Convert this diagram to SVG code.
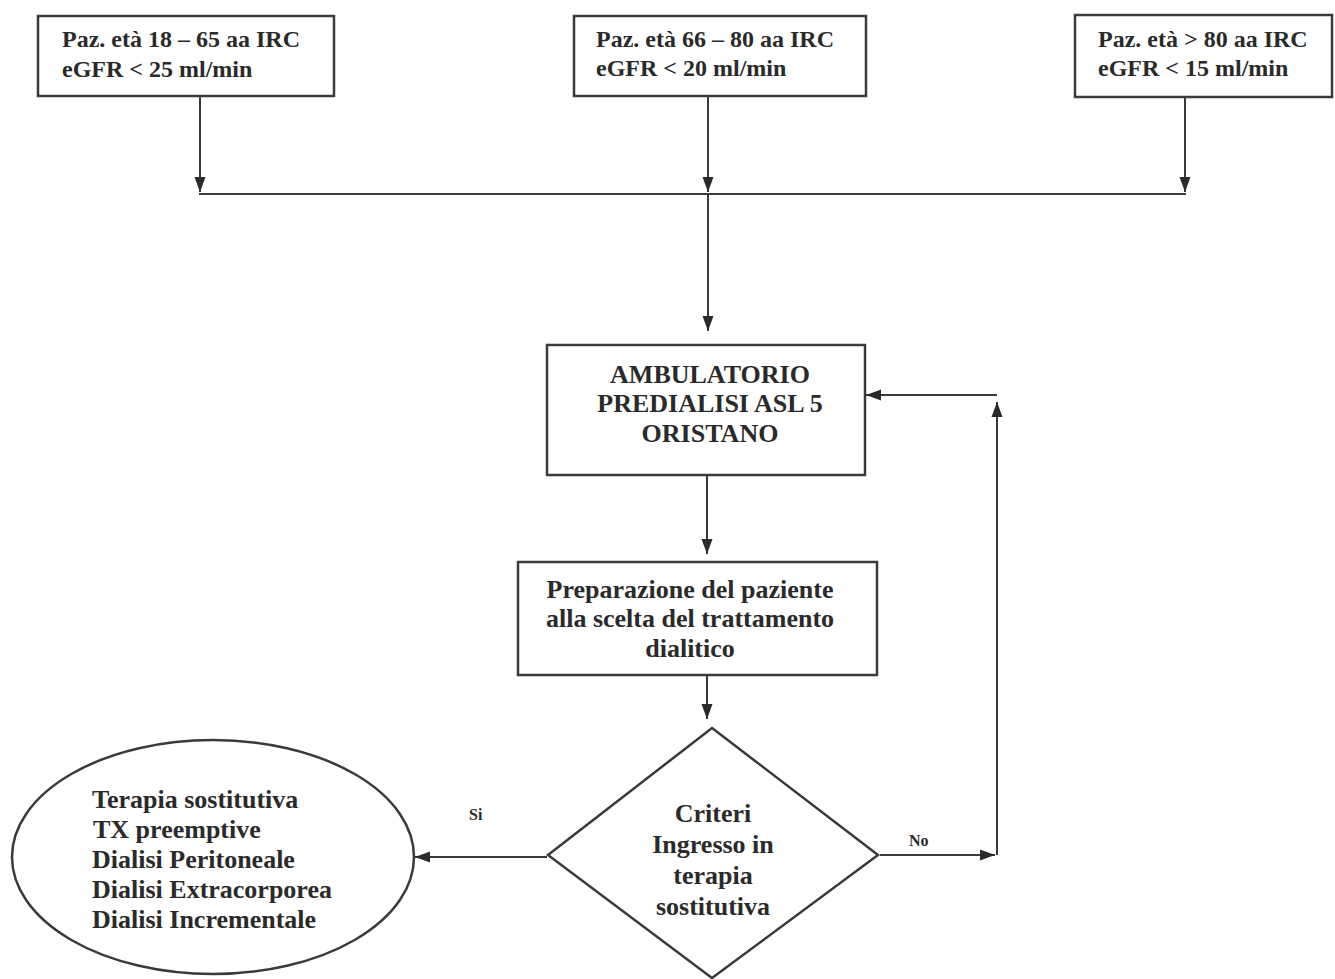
<svg xmlns="http://www.w3.org/2000/svg" width="1335" height="979" viewBox="0 0 1335 979">
  <style>
    .box { fill: #ffffff; stroke: #3a3a3a; stroke-width: 2.5; }
    .line { fill: none; stroke: #3a3a3a; stroke-width: 2; }
    .t { font-family: "Liberation Serif", "Times New Roman", serif; font-weight: bold; fill: #2a2a2a; }
    .t24 { font-size: 24px; }
    .t26 { font-size: 26px; }
    .small { font-size: 16px; }
    .mid { text-anchor: middle; }
  </style>
  <defs>
    <marker id="arrow" markerUnits="userSpaceOnUse" markerWidth="16" markerHeight="12" refX="15" refY="6" orient="auto">
      <path d="M0,0.5 L15,6 L0,11.5 z" fill="#2a2a2a"/>
    </marker>
  </defs>
  <rect width="1335" height="979" fill="#ffffff"/>

  <g id="connectors">
    <line class="line" x1="200" y1="96" x2="200" y2="192" marker-end="url(#arrow)"/>
    <line class="line" x1="708" y1="96" x2="708" y2="192" marker-end="url(#arrow)"/>
    <line class="line" x1="1185" y1="97" x2="1185" y2="192" marker-end="url(#arrow)"/>
    <line class="line" x1="199" y1="194" x2="1186" y2="194"/>
    <line class="line" x1="708" y1="194" x2="708" y2="331" marker-end="url(#arrow)"/>
    <line class="line" x1="707" y1="475" x2="707" y2="554" marker-end="url(#arrow)"/>
    <line class="line" x1="707" y1="640" x2="707" y2="719" marker-end="url(#arrow)"/>
    <line class="line" x1="547" y1="857" x2="415" y2="857" marker-end="url(#arrow)"/>
    <line class="line" x1="880" y1="855" x2="995" y2="855" marker-end="url(#arrow)"/>
    <line class="line" x1="997" y1="855" x2="997" y2="402" marker-end="url(#arrow)"/>
    <line class="line" x1="997" y1="395" x2="866" y2="395" marker-end="url(#arrow)"/>
    <text class="t small" x="469" y="820">Si</text>
    <text class="t small" x="909" y="846">No</text>
  </g>

  <g id="node-eta-18-65">
    <rect class="box" x="38" y="16" width="296" height="80"/>
    <text class="t t24" x="62" y="47">Paz. età 18 – 65 aa IRC</text>
    <text class="t t24" x="62" y="77">eGFR &lt; 25 ml/min</text>
  </g>

  <g id="node-eta-66-80">
    <rect class="box" x="574" y="16" width="292" height="80"/>
    <text class="t t24" x="596" y="47">Paz. età 66 – 80 aa IRC</text>
    <text class="t t24" x="596" y="76">eGFR &lt; 20 ml/min</text>
  </g>

  <g id="node-eta-over-80">
    <rect class="box" x="1075" y="15" width="257" height="82"/>
    <text class="t t24" x="1098" y="47">Paz. età &gt; 80 aa IRC</text>
    <text class="t t24" x="1098" y="76">eGFR &lt; 15 ml/min</text>
  </g>

  <g id="node-ambulatorio">
    <rect class="box" x="547" y="345" width="318" height="130"/>
    <text class="t t26 mid" x="710" y="383">AMBULATORIO</text>
    <text class="t t26 mid" x="710" y="412">PREDIALISI ASL 5</text>
    <text class="t t26 mid" x="710" y="442">ORISTANO</text>
  </g>

  <g id="node-preparazione">
    <rect class="box" x="518" y="562" width="359" height="113"/>
    <text class="t t26 mid" x="690" y="598">Preparazione del paziente</text>
    <text class="t t26 mid" x="690" y="627">alla scelta del trattamento</text>
    <text class="t t26 mid" x="690" y="657">dialitico</text>
  </g>

  <g id="node-criteri">
    <polygon class="box" points="712,728 878,855 712,978 548,855"/>
    <text class="t t26 mid" x="713" y="822">Criteri</text>
    <text class="t t26 mid" x="713" y="853">Ingresso in</text>
    <text class="t t26 mid" x="713" y="884">terapia</text>
    <text class="t t26 mid" x="713" y="915">sostitutiva</text>
  </g>

  <g id="node-terapia">
    <ellipse class="box" cx="213" cy="857" rx="201" ry="117"/>
    <text class="t t26" x="92" y="808">Terapia sostitutiva</text>
    <text class="t t26" x="93" y="838">TX preemptive</text>
    <text class="t t26" x="92" y="868">Dialisi Peritoneale</text>
    <text class="t t26" x="92" y="898">Dialisi Extracorporea</text>
    <text class="t t26" x="92" y="928">Dialisi Incrementale</text>
  </g>
</svg>
